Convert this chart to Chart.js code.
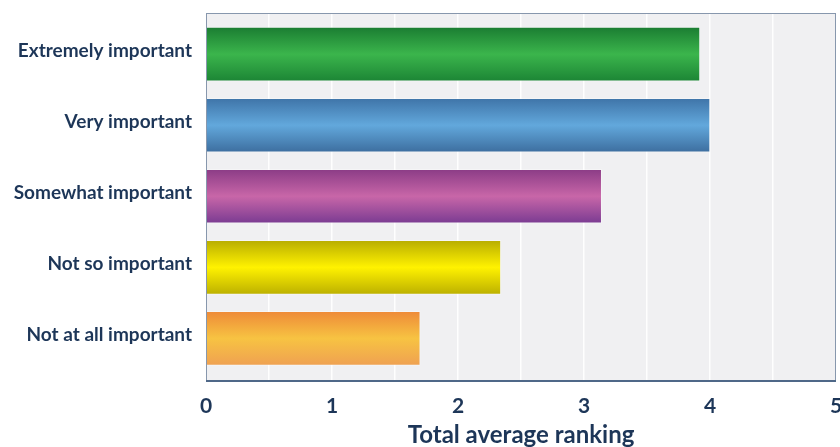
<!DOCTYPE html>
<html>
<head>
<meta charset="utf-8">
<script src="https://cdn.jsdelivr.net/npm/chart.js@4.4.1/dist/chart.umd.min.js"></script>
<style>
  html, body { margin: 0; padding: 0; background: #ffffff; }
  #wrap { width: 840px; height: 447px; position: relative; }
</style>
</head>
<body>
<div id="wrap"><canvas id="c" width="840" height="447"></canvas></div>
<script>
// ---- data ----
const categories = ["Extremely important", "Very important", "Somewhat important", "Not so important", "Not at all important"];
const values = [3.92, 4.0, 3.14, 2.34, 1.70];
const xTickLabels = ["0", "1", "2", "3", "4", "5"];
const axisTitle = "Total average ranking";

// ---- styles ----
const gradientStops = [
  ["#1b7d32", "#3bb54c", "#1c8535"],
  ["#3f74a8", "#62a8dc", "#3d6e9f"],
  ["#8b3c86", "#c866a8", "#7a3b92"],
  ["#b8ad00", "#fff200", "#bcb000"],
  ["#ee8a38", "#f7c342", "#efa152"]
];
const textColor = "#1d3658";
const fontFamily = "Lato, 'Open Sans', sans-serif";

const points = values.map((v, i) => ({ x: v, y: i }));

function barGradient(ctx) {
  const chart = ctx.chart;
  const ys = chart.scales && chart.scales.y;
  const i = ctx.dataIndex;
  const stops = gradientStops[i % gradientStops.length];
  if (!ys || ys.top === undefined || isNaN(ys.getPixelForValue(i))) return stops[1];
  const c = ys.getPixelForValue(i);
  const h = 27;
  const g = chart.ctx.createLinearGradient(0, c - h, 0, c + h);
  g.addColorStop(0, stops[0]);
  g.addColorStop(0.5, stops[1]);
  g.addColorStop(1, stops[2]);
  return g;
}

const bgPlugin = {
  id: 'plotBg',
  beforeDraw(chart) {
    const { ctx, chartArea: a } = chart;
    ctx.save();
    ctx.fillStyle = '#f0f0f2';
    ctx.fillRect(a.left, a.top, a.right - a.left, a.bottom - a.top);
    ctx.restore();
  },
  afterDatasetsDraw(chart) {
    const { ctx, chartArea: a } = chart;
    ctx.save();
    ctx.strokeStyle = '#8797ad';
    ctx.lineWidth = 1;
    ctx.strokeRect(a.left + 0.5, a.top + 0.5, a.right - a.left - 1, a.bottom - a.top);
    ctx.strokeStyle = '#4f6888';
    ctx.lineWidth = 2;
    ctx.beginPath();
    ctx.moveTo(a.left, a.bottom);
    ctx.lineTo(a.right, a.bottom);
    ctx.stroke();
    ctx.restore();
  }
};

new Chart(document.getElementById('c'), {
  type: 'bar',
  data: {
    datasets: [{
      data: points,
      backgroundColor: barGradient,
      borderColor: 'rgba(255,255,255,0.35)',
      borderWidth: 1,
      barThickness: 54
    }]
  },
  options: {
    indexAxis: 'y',
    responsive: false,
    animation: false,
    layout: { padding: { top: 13, right: 4, left: 0, bottom: 0 } },
    plugins: { legend: { display: false }, tooltip: { enabled: false } },
    scales: {
      x: {
        type: 'linear',
        min: 0, max: 5,
        ticks: {
          stepSize: 0.5,
          color: textColor,
          font: { family: fontFamily, size: 21, weight: 'bold' },
          padding: 13,
          maxRotation: 0,
          autoSkip: false,
          callback: (v) => Number.isInteger(v) ? xTickLabels[v] : ''
        },
        grid: { color: 'rgba(255,255,255,0.9)', lineWidth: 1.5, drawTicks: false },
        border: { display: false },
        title: {
          display: true,
          text: axisTitle,
          color: textColor,
          font: { family: fontFamily, size: 24, weight: 'bold', lineHeight: 1.0 },
          padding: { top: 0, bottom: 0 }
        },
        afterFit(scale) { scale.height = 66; scale.paddingRight = 0; scale.paddingLeft = 0; }
      },
      y: {
        type: 'linear',
        reverse: true,
        offset: false,
        min: -0.58, max: 4.6,
        afterBuildTicks(scale) { scale.ticks = categories.map((c, i) => ({ value: i })); },
        ticks: {
          color: textColor,
          font: { family: fontFamily, size: 19, weight: 'bold' },
          padding: 14,
          labelOffset: -3,
          autoSkip: false,
          callback: (v) => categories[v]
        },
        grid: { display: false, drawTicks: false },
        border: { display: false },
        afterFit(scale) { scale.width = 206; scale.paddingTop = 0; scale.paddingBottom = 0; }
      }
    }
  },
  plugins: [bgPlugin]
});
</script>
</body>
</html>
